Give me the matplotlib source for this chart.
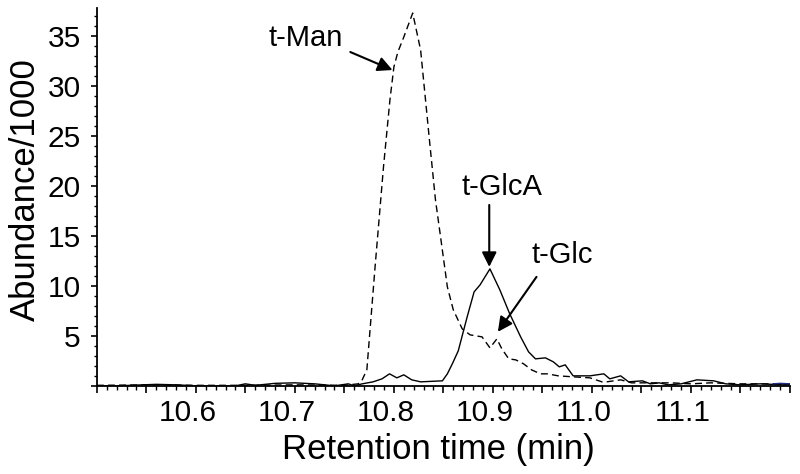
import matplotlib
matplotlib.use('Agg')
import matplotlib.pyplot as plt
import matplotlib.transforms as mtransforms
from matplotlib.ticker import MultipleLocator, FuncFormatter

plt.rcParams['font.family'] = ['Liberation Sans', 'DejaVu Sans']

# dashed trace (t-Man / t-Glc sample)
man_x = [10.50, 10.56, 10.60, 10.65, 10.70, 10.75, 10.764, 10.768, 10.7727, 10.781,
         10.7895, 10.796, 10.800, 10.804, 10.810, 10.819, 10.827, 10.836, 10.842, 10.847,
         10.854, 10.860, 10.869, 10.877, 10.889, 10.897, 10.904, 10.909, 10.916, 10.923,
         10.931, 10.939, 10.948, 10.955, 10.966, 10.981, 10.998, 11.010, 11.015, 11.029,
         11.04, 11.06, 11.08, 11.10, 11.12, 11.15, 11.18, 11.20]
man_y = [0.05, 0.1, 0.05, 0.05, 0.1, 0.05, 0.2, 0.6, 1.6, 11.9,
         21.9, 28.6, 31.9, 33.4, 34.9, 37.3, 33.6, 24.5, 18.6, 15.0,
         9.9, 7.6, 5.7, 5.1, 4.9, 3.8, 4.7, 3.7, 2.7, 2.6,
         2.2, 1.6, 1.2, 1.2, 1.0, 0.9, 0.8, 0.4, 0.4, 0.6,
         0.3, 0.3, 0.3, 0.2, 0.3, 0.2, 0.2, 0.1]

# solid trace (t-GlcA sample)
glca_x = [10.50, 10.52, 10.56, 10.58, 10.60, 10.64, 10.65, 10.66, 10.68, 10.70,
          10.72, 10.74, 10.754, 10.76, 10.768, 10.779, 10.788, 10.7956, 10.803, 10.810,
          10.818, 10.827, 10.849, 10.854, 10.859, 10.865, 10.874, 10.881, 10.887, 10.897,
          10.907, 10.917, 10.928, 10.936, 10.943, 10.953, 10.961, 10.967, 10.973, 10.981,
          10.998, 11.012, 11.018, 11.029, 11.037, 11.051, 11.059, 11.068, 11.077, 11.09,
          11.106, 11.123, 11.135, 11.15, 11.17, 11.193, 11.20]
glca_y = [0.0, 0.0, 0.15, 0.1, 0.0, 0.0, 0.2, 0.05, 0.25, 0.3,
          0.2, 0.0, 0.2, 0.0, 0.2, 0.4, 0.7, 1.2, 0.8, 1.1,
          0.6, 0.4, 0.5, 1.2, 2.2, 3.5, 6.9, 9.4, 10.1, 11.7,
          9.6, 7.2, 4.9, 3.4, 2.7, 2.8, 2.4, 1.9, 2.1, 1.0,
          1.0, 1.2, 0.7, 1.0, 0.4, 0.5, 0.2, 0.3, 0.1, 0.2,
          0.6, 0.5, 0.2, 0.1, 0.2, 0.1, 0.2]

# short third trace visible at the right end
tail_x = [11.183, 11.19, 11.20]
tail_y = [0.2, 0.25, 0.2]

# labels: (text, text position, arrow tail, arrow tip)
peaks = [
    ('t-Man', (10.711, 34.8), (10.756, 33.4), (10.7986, 31.6)),
    ('t-GlcA', (10.909, 19.9), (10.8963, 18.1), (10.8963, 11.9)),
    ('t-Glc', (10.970, 13.1), (10.944, 10.9), (10.905, 5.4)),
]

fig = plt.figure(figsize=(8, 4.74), dpi=100)
ax = fig.add_axes([0.121, 0.186, 0.8665, 0.797])

ax.plot(man_x, man_y, color='black', lw=1.0, linestyle=(0, (5, 3)))
ax.plot(glca_x, glca_y, color='black', lw=1.0)
ax.plot(tail_x, tail_y, color='#1f2a80', lw=1.0)

for label, txt, tail, tip in peaks:
    ax.text(txt[0], txt[1], label, fontsize=21, ha='center', va='center')
    ax.annotate('', xy=tip, xytext=tail,
                arrowprops=dict(arrowstyle='-|>', mutation_scale=22, lw=1.5,
                                color='black', shrinkA=0, shrinkB=0))

ax.set_xlim(10.5, 11.2)
ax.set_ylim(0, 37.8)

ax.xaxis.set_major_locator(MultipleLocator(0.05))
ax.xaxis.set_minor_locator(MultipleLocator(0.01))


def xfmt(v, pos):
    k = round(v * 100)
    if k % 10 == 0 and 1060 <= k <= 1110:
        return '%.1f' % v
    return ''


ax.xaxis.set_major_formatter(FuncFormatter(xfmt))
ax.yaxis.set_major_locator(MultipleLocator(5))
ax.yaxis.set_minor_locator(MultipleLocator(1))
ax.yaxis.set_major_formatter(FuncFormatter(lambda v, p: '' if v == 0 else '%d' % v))

ax.tick_params(axis='x', which='major', direction='out', length=5, width=1.2,
               labelsize=21.5, pad=4.5)
ax.tick_params(axis='x', which='minor', direction='out', length=3, width=1.0)
ax.tick_params(axis='y', which='major', direction='out', length=4, width=1.2,
               labelsize=21.5, pad=7.5)
ax.tick_params(axis='y', which='minor', direction='out', length=2.5, width=1.0)

# tick labels in the reference sit a little left of their ticks
shift = mtransforms.ScaledTranslation(-0.08, 0, fig.dpi_scale_trans)
for lab in ax.get_xticklabels():
    lab.set_transform(lab.get_transform() + shift)

for side in ['top', 'right']:
    ax.spines[side].set_visible(False)
ax.spines['left'].set_linewidth(1.3)
ax.spines['bottom'].set_linewidth(1.3)

ax.set_xlabel('Retention time (min)', fontsize=25)
ax.set_ylabel('Abundance/1000', fontsize=25)
ax.xaxis.set_label_coords(0.493, -0.194)
ax.xaxis.label.set_va('baseline')
ax.yaxis.set_label_coords(-0.103, 0.52)
ax.yaxis.label.set_va('center')

plt.savefig('out.png', dpi=100)
